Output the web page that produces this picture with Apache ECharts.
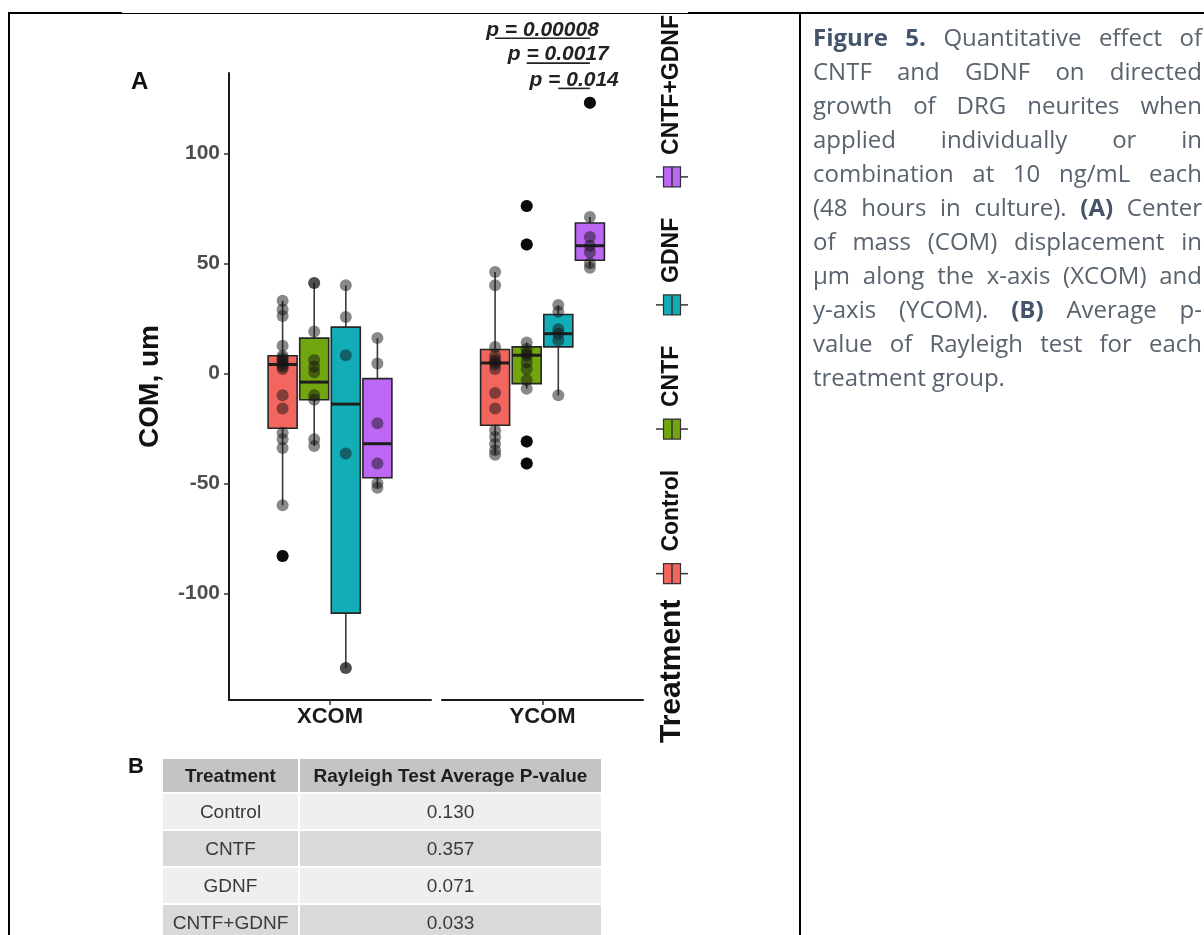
<!DOCTYPE html>
<html>
<head>
<meta charset="utf-8">
<script src="https://cdn.jsdelivr.net/npm/echarts@6/dist/echarts.min.js"></script>
<style>
html,body{margin:0;padding:0;background:#fff;}
#wrap{position:relative;width:1204px;height:935px;overflow:hidden;background:#fff;}
#chart{position:absolute;left:0;top:0;width:1204px;height:935px;}
.bl{position:absolute;background:#000;}
#caption{position:absolute;left:813px;top:20px;width:389px;font-family:'Open Sans',Lato,sans-serif;font-size:22px;line-height:34px;color:#59636f;}
#caption .ln{display:flex;justify-content:space-between;white-space:nowrap;}
#caption .ln.last{justify-content:flex-start;}
#caption b{color:#44546a;font-weight:700;}
#blabel{position:absolute;left:128px;top:753px;font:bold 22px 'Liberation Sans',Arial,sans-serif;color:#111;}
#tbl{position:absolute;left:161px;top:757px;border-collapse:separate;border-spacing:2px 2px;font-family:'Liberation Sans',Arial,sans-serif;font-size:19px;}
#tbl td,#tbl th{padding:0;text-align:center;}
#tbl th{background:#c4c4c4;color:#1e1e1e;font-weight:bold;height:33px;}
#tbl td{height:35px;color:#3a3a3a;}
#tbl tr.odd td{background:#efefef;}
#tbl tr.even td{background:#d9d9d9;}
</style>
</head>
<body>
<div id="wrap">
  <div id="chart"></div>
  <div class="bl" style="left:8px;top:12px;width:114px;height:2px;"></div>
  <div class="bl" style="left:122px;top:13px;width:566px;height:1px;"></div>
  <div class="bl" style="left:688px;top:12px;width:516px;height:2px;"></div>
  <div class="bl" style="left:8px;top:12px;width:2px;height:923px;"></div>
  <div class="bl" style="left:799px;top:12px;width:2px;height:923px;"></div>
  <div id="caption"></div>
  <div id="blabel">B</div>
  <table id="tbl"></table>
</div>
<script>
// ---------------- data ----------------
const facets = ['XCOM', 'YCOM'];
const treatments = ['Control', 'CNTF', 'GDNF', 'CNTF+GDNF'];
const yTicks = [-100, -50, 0, 50, 100];
const yMin = -148.5;
const yMax = 136.5;
// box stats per treatment: [lower whisker, Q1, median, Q3, upper whisker]
const xcomBoxes = [
  [-60, -25, 4, 8, 33],
  [-33, -12, -4, 16, 41],
  [-134, -109, -14, 21, 40],
  [-52, -47.5, -32, -2.4, 16]
];
const ycomBoxes = [
  [-37, -23.6, 4.7, 10.8, 46],
  [-7, -4.7, 8.2, 12, 14],
  [-10, 12, 18, 26.7, 31],
  [48, 51.4, 58, 68.3, 71]
];
// individual observations per treatment
const xcomPoints = [
  [33, 29, 26, 12.5, 8, 7, 6, 5, 4, 3, 2, -10, -16, -27, -30, -34, -60, -83],
  [41, 41, 19, 6, 3, 0.5, -10, -12, -30, -33],
  [40, 25.6, 8.2, -36.5, -134, -134],
  [16, 4.5, -22.7, -41, -50, -52]
];
const ycomPoints = [
  [46, 40, 12, 8, 6, 5, 4, 2, -9, -16, -26, -29, -32, -35, -37],
  [76, 58.5, 14, 11, 9, 8, 5, 2, -3, -7, -31, -41],
  [31, 28, 20, 18, 15, -10],
  [123, 71, 62, 58, 55, 50, 48]
];
// significance brackets (YCOM)
const sigLabels = ['p = 0.00008', 'p = 0.0017', 'p = 0.014'];
const sigFrom = [0, 1, 2];
const sigTo = [3, 3, 3];
const sigLevels = [152.3, 141, 129.5];
// table B
const tableHeader = ['Treatment', 'Rayleigh Test Average P-value'];
const rayleighP = ['0.130', '0.357', '0.071', '0.033'];
// caption
const captionLines = [
  'Figure 5. Quantitative effect of',
  'CNTF and GDNF on directed',
  'growth of DRG neurites when',
  'applied individually or in',
  'combination at 10 ng/mL each',
  '(48 hours in culture). (A) Center',
  'of mass (COM) displacement in',
  'µm along the x-axis (XCOM) and',
  'y-axis (YCOM). (B) Average p-',
  'value of Rayleigh test for each',
  'treatment group.'
];
const captionBold = ['Figure', '5.', '(A)', '(B)'];

// ---------------- style ----------------
const FILL = ['#F2665F', '#72A60E', '#13ADB8', '#BC68F5'];
const OFFSETS = [-47.4, -15.8, 15.8, 47.4];
const BOX_W = 29;
const FONT = "'Liberation Sans', Arial, sans-serif";
const CAP_FONT = "'Open Sans', Lato, sans-serif";
const CAP_W = 389;

const mctx = document.createElement('canvas').getContext('2d');
function measure(text, font) { mctx.font = font; return mctx.measureText(text).width; }

// ---------------- caption & table (HTML) ----------------
let maxNat = 0;
captionLines.slice(0, -1).forEach(line => {
  let w = 0;
  line.split(' ').forEach((wd, i) => {
    w += measure(wd, (captionBold.includes(wd) ? '700 ' : '400 ') + '22px ' + CAP_FONT);
    if (i) w += measure(' ', '400 22px ' + CAP_FONT);
  });
  maxNat = Math.max(maxNat, w);
});
const capSize = Math.max(19, Math.min(24, 22 * (CAP_W - 2) / maxNat));
const cap = document.getElementById('caption');
cap.style.fontSize = capSize.toFixed(2) + 'px';
captionLines.forEach((line, i) => {
  const d = document.createElement('div');
  d.className = 'ln' + (i === captionLines.length - 1 ? ' last' : '');
  const words = line.split(' ');
  words.forEach((w, wi) => {
    const s = document.createElement(captionBold.includes(w) ? 'b' : 'span');
    s.textContent = w;
    if (i === captionLines.length - 1 && wi < words.length - 1) s.style.marginRight = '0.26em';
    d.appendChild(s);
  });
  cap.appendChild(d);
});
const tbl = document.getElementById('tbl');
const hr = document.createElement('tr');
tableHeader.forEach((h, i) => {
  const th = document.createElement('th');
  th.textContent = h;
  th.style.width = i === 0 ? '135px' : '301px';
  hr.appendChild(th);
});
tbl.appendChild(hr);
treatments.forEach((t, i) => {
  const tr = document.createElement('tr');
  tr.className = i % 2 === 0 ? 'odd' : 'even';
  [t, rayleighP[i]].forEach(v => {
    const td = document.createElement('td');
    td.textContent = v;
    tr.appendChild(td);
  });
  tbl.appendChild(tr);
});

// ---------------- chart ----------------
function boxRenderer(offset, color) {
  return function (params, api) {
    const c = api.value(0);
    const lo = api.coord([c, api.value(1)]);
    const q1 = api.coord([c, api.value(2)]);
    const md = api.coord([c, api.value(3)]);
    const q3 = api.coord([c, api.value(4)]);
    const hi = api.coord([c, api.value(5)]);
    const cx = lo[0] + offset;
    const hw = BOX_W / 2;
    const ws = { stroke: '#3a3a3a', lineWidth: 1.6 };
    return {
      type: 'group',
      children: [
        { type: 'line', shape: { x1: cx, y1: hi[1], x2: cx, y2: q3[1] }, style: ws },
        { type: 'line', shape: { x1: cx, y1: q1[1], x2: cx, y2: lo[1] }, style: ws },
        { type: 'rect', shape: { x: cx - hw, y: q3[1], width: BOX_W, height: q1[1] - q3[1] },
          style: { fill: color, stroke: '#262626', lineWidth: 1.6 } },
        { type: 'line', shape: { x1: cx - hw, y1: md[1], x2: cx + hw, y2: md[1] },
          style: { stroke: '#1e1e1e', lineWidth: 3 } }
      ]
    };
  };
}

const series = [];
const boxesByFacet = [xcomBoxes, ycomBoxes];
const pointsByFacet = [xcomPoints, ycomPoints];
facets.forEach((f, fi) => {
  treatments.forEach((t, ti) => {
    const box = boxesByFacet[fi][ti];
    const pts = pointsByFacet[fi][ti];
    series.push({
      type: 'custom', name: t, xAxisIndex: fi, yAxisIndex: fi, z: 2,
      renderItem: boxRenderer(OFFSETS[ti], FILL[ti]),
      encode: { x: 0, y: [1, 2, 3, 4, 5] },
      data: [[0].concat(box)],
      silent: true
    });
    const outl = pts.filter(v => v < box[0] || v > box[4]);
    if (outl.length) {
      series.push({
        type: 'scatter', xAxisIndex: fi, yAxisIndex: fi, z: 3, silent: true,
        symbolSize: 12, symbolOffset: [OFFSETS[ti], 0],
        itemStyle: { color: '#000', opacity: 1 },
        data: outl.map(v => [0, v])
      });
    }
    series.push({
      type: 'scatter', xAxisIndex: fi, yAxisIndex: fi, z: 4, silent: true,
      symbolSize: 12, symbolOffset: [OFFSETS[ti], 0],
      itemStyle: { color: 'rgba(20,20,20,0.5)', opacity: 1 },
      data: pts.map(v => [0, v])
    });
  });
});
series.push({
  type: 'custom', xAxisIndex: 1, yAxisIndex: 1, z: 5, clip: false, silent: true,
  data: sigLevels.map(v => [0, v]),
  renderItem: function (params, api) {
    const i = params.dataIndex;
    const p = api.coord([0, api.value(1)]);
    const x1 = p[0] + OFFSETS[sigFrom[i]];
    const x2 = p[0] + OFFSETS[sigTo[i]];
    return {
      type: 'group',
      children: [
        { type: 'line', shape: { x1: x1, y1: p[1], x2: x2, y2: p[1] }, style: { stroke: '#222', lineWidth: 1.6 } },
        { type: 'text', style: { text: sigLabels[i], x: (x1 + x2) / 2, y: p[1] + 2, align: 'center', verticalAlign: 'bottom',
          fontSize: 21, fontWeight: 'bold', fontStyle: 'italic', fontFamily: FONT, fill: '#222' } }
      ]
    };
  }
});

// legend (rotated, built from the treatment list), spanning from the
// bottom of the title (LEG_BOTTOM) up to the top of the last label (LEG_TOP)
const LEG_TITLE = 30, LEG_LABEL = 23, KEY_L = 20, KEY_T = 17, WHISK = 16;
const LEG_BOTTOM = 743, LEG_TOP = 15, GAP_TK = 16, GAP_KL = 12;
function tw(text, size) { return measure(text, 'bold ' + size + 'px ' + FONT); }
let fixedLen = tw('Treatment', LEG_TITLE) + GAP_TK;
treatments.forEach(t => { fixedLen += KEY_L + GAP_KL + tw(t, LEG_LABEL); });
const GAP_LK = Math.max(8, (LEG_BOTTOM - LEG_TOP - fixedLen) / (treatments.length - 1));
const legendChildren = [];
let pos = 0;
legendChildren.push({ type: 'text', x: pos, y: 0, style: { text: 'Treatment', fontSize: LEG_TITLE, fontWeight: 'bold', fontFamily: FONT, fill: '#111', align: 'left', verticalAlign: 'middle' } });
pos += tw('Treatment', LEG_TITLE) + GAP_TK;
treatments.forEach((t, i) => {
  legendChildren.push({ type: 'line', shape: { x1: pos + KEY_L / 2, y1: -WHISK, x2: pos + KEY_L / 2, y2: WHISK }, style: { stroke: '#333', lineWidth: 1.5 } });
  legendChildren.push({ type: 'rect', shape: { x: pos, y: -KEY_T / 2, width: KEY_L, height: KEY_T }, style: { fill: FILL[i], stroke: '#333', lineWidth: 1.2 } });
  legendChildren.push({ type: 'line', shape: { x1: pos, y1: 0, x2: pos + KEY_L, y2: 0 }, style: { stroke: '#333', lineWidth: 1.5 } });
  pos += KEY_L + GAP_KL;
  legendChildren.push({ type: 'text', x: pos, y: 0, style: { text: t, fontSize: LEG_LABEL, fontWeight: 'bold', fontFamily: FONT, fill: '#111', align: 'left', verticalAlign: 'middle' } });
  pos += tw(t, LEG_LABEL) + GAP_LK;
});

const yAxisBase = { type: 'value', min: yMin, max: yMax, splitLine: { show: false } };
const chart = echarts.init(document.getElementById('chart'), null, { renderer: 'canvas' });
chart.setOption({
  animation: false,
  backgroundColor: 'transparent',
  grid: [
    { left: 229, top: 73, width: 202, height: 627 },
    { left: 442, top: 73, width: 201, height: 627 }
  ],
  xAxis: facets.map((f, i) => ({
    type: 'category', gridIndex: i, data: [f],
    axisLine: { show: true, onZero: false, lineStyle: { color: '#1a1a1a', width: 2 } },
    axisTick: { show: true, alignWithLabel: true, length: 5, lineStyle: { color: '#333', width: 1.5 } },
    axisLabel: { fontSize: 22, fontWeight: 'bold', color: '#1a1a1a', fontFamily: FONT, margin: 6 }
  })),
  yAxis: [
    Object.assign({}, yAxisBase, {
      gridIndex: 0,
      name: 'COM, um', nameLocation: 'middle', nameRotate: 90, nameGap: 65,
      nameTextStyle: { fontSize: 28, fontWeight: 'bold', color: '#111', fontFamily: FONT },
      axisLine: { show: true, onZero: false, lineStyle: { color: '#1a1a1a', width: 2 } },
      axisTick: { show: true, length: 5, customValues: yTicks, lineStyle: { color: '#333', width: 1.5 } },
      axisLabel: { customValues: yTicks, fontSize: 21, fontWeight: 'bold', color: '#4d4d4d', fontFamily: FONT, margin: 9 }
    }),
    Object.assign({}, yAxisBase, { gridIndex: 1, show: false })
  ],
  graphic: [
    { type: 'text', x: 131, y: 70, style: { text: 'A', fontSize: 24, fontWeight: 'bold', fontFamily: FONT, fill: '#111' } },
    { type: 'group', x: 672, y: LEG_BOTTOM, rotation: Math.PI / 2, children: legendChildren }
  ],
  series: series
});
</script>
</body>
</html>
